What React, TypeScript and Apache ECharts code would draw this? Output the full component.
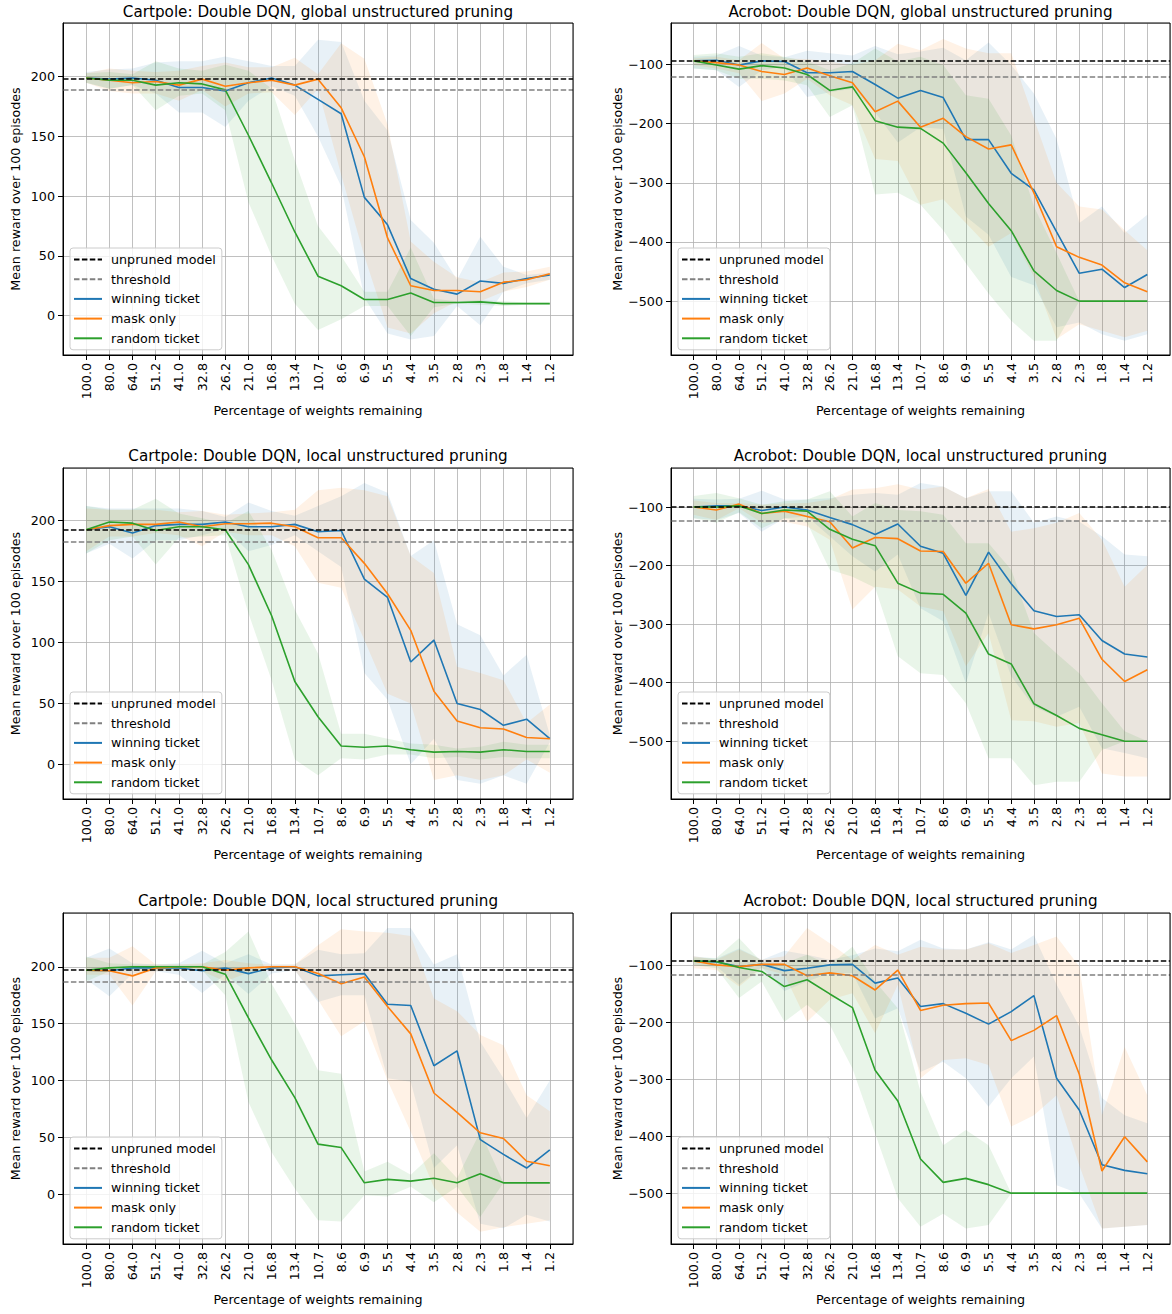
import React, { useEffect, useRef } from 'react';
import * as echarts from 'echarts';

// ---------- categories ----------
const categories = ['100.0', '80.0', '64.0', '51.2', '41.0', '32.8', '26.2', '21.0', '16.8', '13.4', '10.7', '8.6', '6.9', '5.5', '4.4', '3.5', '2.8', '2.3', '1.8', '1.4', '1.2'];
const PAD_L = 'padL';
const PAD_R = 'padR';

// ---------- Cartpole: global unstructured ----------
const cgWin = [199, 198, 199, 197, 191, 191, 188, 195, 199, 193, 181, 169, 99, 76, 31, 22, 18, 29, 27, 31, 34];
const cgWinHi = [204, 206, 207, 212, 213, 213, 217, 213, 209, 209, 231, 229, 180, 155, 80, 61, 30, 66, 41, 34, 36];
const cgWinLo = [195, 190, 193, 186, 170, 170, 158, 180, 192, 184, 150, 108, 15, -15, -20, -17, 8, -8, 20, 27, 30];
const cgMask = [199, 197, 195, 196, 193, 198, 192, 195, 197, 193, 198, 174, 133, 65, 25, 21, 21, 20, 28, 30, 35];
const cgMaskHi = [203, 207, 205, 204, 205, 209, 212, 208, 208, 216, 202, 228, 215, 160, 62, 45, 32, 28, 36, 37, 41];
const cgMaskLo = [195, 188, 186, 186, 180, 189, 175, 186, 187, 168, 190, 118, 50, -10, -15, 2, 12, 12, 20, 24, 30];
const cgRand = [199, 197, 197, 193, 195, 194, 189, 151, 111, 70, 33, 25, 13.5, 13.5, 19, 11, 11, 11.5, 10, 10, 10];
const cgRandHi = [203, 204, 202, 213, 207, 205, 210, 205, 190, 130, 75, 50, 20, 20, 57, 14, 12, 13, 12, 11, 11];
const cgRandLo = [195, 190, 193, 172, 184, 186, 172, 95, 50, 10, -12, -3, 8, 8, -17, 7, 10, 9, 8, 9, 9];

// ---------- Acrobot: global unstructured ----------
const agWin = [-94, -93, -101, -94, -95, -114, -114, -112, -134, -157, -144, -156, -227, -227, -284, -312, -383, -453, -446, -477, -455];
const agWinHi = [-87, -85, -69, -85, -88, -77, -81, -85, -69, -83, -78, -72, -93, -63, -101, -149, -226, -368, -340, -385, -354];
const agWinLo = [-107, -110, -138, -110, -104, -155, -147, -141, -181, -232, -206, -209, -357, -388, -459, -473, -544, -536, -556, -567, -556];
const agMask = [-94, -97, -101, -112, -117, -106, -119, -131, -180, -162, -206, -191, -222, -243, -236, -317, -408, -426, -439, -469, -484];
const agMaskHi = [-90, -87, -93, -64, -90, -91, -95, -101, -93, -65, -76, -57, -73, -81, -81, -192, -300, -340, -345, -380, -414];
const agMaskLo = [-101, -107, -115, -162, -149, -124, -152, -169, -260, -263, -337, -328, -368, -408, -385, -459, -564, -539, -550, -561, -550];
const agRand = [-94, -101, -108, -102, -106, -117, -144, -138, -195, -206, -208, -233, -283, -335, -381, -449, -482, -500, -500, -500, -500];
const agRandHi = [-84, -81, -87, -81, -87, -95, -110, -98, -73, -95, -87, -101, -152, -158, -220, -340, -419, -500, -500, -500, -500];
const agRandLo = [-107, -110, -124, -124, -127, -135, -189, -169, -320, -317, -337, -380, -436, -487, -533, -567, -567, -500, -500, -500, -500];

// ---------- Cartpole: local unstructured ----------
const clWin = [192.6, 195, 190, 196, 197, 197, 199, 195, 195, 197, 191, 192, 152, 137, 84, 102, 50, 45, 32, 37, 21];
const clWinHi = [212, 210, 210, 210, 210, 208, 203, 215, 208, 204, 212, 220, 231, 223, 171, 184, 115, 106, 73, 90, 24];
const clWinLo = [173, 181, 169, 184, 184, 188, 193, 175, 180, 188, 175, 162, 75, 53, 0, 21, -13, -16, -9, -16, 18];
const clMask = [192.6, 196, 197, 197, 199, 195, 197.5, 197.5, 198, 195, 186, 186, 165, 140, 110, 60, 35.6, 30, 29, 22, 21];
const clMaskHi = [210, 209, 209, 209, 207, 208, 205, 206, 207, 209, 225, 227, 225, 220, 171, 157, 80, 75, 69, 34, 49];
const clMaskLo = [175, 187, 187, 190, 188, 179, 191, 188, 188, 179, 149, 145, 102, 58, 50, -13, -9, -13, -9, 4, -7];
const clRand = [192.6, 199, 198, 192, 195, 195, 192.6, 164, 122, 68, 39, 15, 14, 15, 12, 10, 10.5, 10, 12, 10.5, 10.5];
const clRandHi = [212, 209, 209, 218, 206, 202, 198, 208, 176, 127, 91, 25, 25, 21, 17, 16, 13, 14.5, 18.6, 16, 16];
const clRandLo = [173, 184, 187, 164, 186, 187, 188, 124, 69, 4, -9, 5, 4, 8, 8, 5, 6, 4, 6, 5, 5];

// ---------- Acrobot: local unstructured ----------
const alWin = [-100, -98, -98, -106, -100, -105, -118, -130, -147, -129, -167, -179, -251, -177, -231, -277, -287, -284, -328, -351, -356];
const alWinHi = [-86, -87, -86, -72, -87, -87, -85, -79, -76, -79, -59, -65, -85, -73, -73, -127, -116, -125, -150, -181, -184];
const alWinLo = [-119, -122, -110, -142, -119, -116, -150, -184, -210, -181, -273, -295, -401, -281, -389, -441, -458, -441, -512, -520, -529];
const alMask = [-100, -105, -95, -111, -107, -116, -125, -170, -152, -154, -175, -176, -230, -196, -301, -308, -301, -290, -360, -398, -378];
const alMaskHi = [-89, -93, -93, -96, -94, -93, -87, -70, -68, -61, -70, -65, -85, -69, -142, -136, -127, -110, -156, -236, -199];
const alMaskLo = [-113, -122, -102, -127, -125, -133, -156, -275, -236, -241, -270, -278, -372, -315, -464, -466, -475, -469, -555, -560, -560];
const alRand = [-100, -100, -98, -111, -105, -107, -138, -155, -166, -230, -247, -249, -281, -351, -368, -436, -456, -478, -489, -500, -500];
const alRandHi = [-81, -76, -85, -96, -90, -87, -73, -116, -93, -105, -107, -113, -162, -162, -207, -315, -350, -384, -435, -483, -500];
const alRandLo = [-119, -127, -109, -136, -119, -127, -207, -219, -238, -355, -384, -387, -435, -529, -529, -575, -569, -569, -515, -500, -500];

// ---------- Cartpole: local structured ----------
const csWin = [197, 196.5, 199, 199, 199, 196.5, 199, 194, 199, 200, 192, 193, 194, 167, 166, 113, 126, 48, 35, 23, 39];
const csWinHi = [208, 216, 203, 202, 203, 214, 203, 211, 202, 202, 215, 211, 212, 234, 234, 202, 211, 134, 102, 67, 100];
const csWinLo = [189, 174, 194, 196, 193, 177, 193.5, 176, 194, 197, 169, 175, 175, 102, 99, 23, 43, -26, -30, -18, -24];
const csMask = [197, 196.5, 192, 199, 200, 200, 197, 199, 200, 200, 194, 185, 191, 165, 141, 89, 72, 54, 49, 29, 25];
const csMaskHi = [208, 208, 218, 202, 202, 203, 206, 203, 202, 202, 219, 233, 231, 230, 227, 172, 161, 140, 131, 87, 73];
const csMaskLo = [193, 193, 166, 196, 197, 196, 187, 195, 197, 197, 171, 139, 152, 100, 55, 6, -16, -33, -29, -26, -23];
const csRand = [197, 199, 200, 200, 200, 200, 193.5, 155, 118, 85, 44, 41, 10, 13, 11.5, 14, 10, 18, 10, 10, 10];
const csRandHi = [209, 203, 202, 202, 202, 202, 213, 231, 185, 150, 109, 106, 20, 28.5, 17, 36, 14, 55, 10, 10, 10];
const csRandLo = [187, 196, 197, 197, 197, 197, 175, 81, 37, 5, -23, -24, -1, -2, 6.5, -7, 6.5, -20, 10, 10, 10];

// ---------- Acrobot: local structured ----------
const asWin = [-92, -94, -102, -98, -109, -105, -99, -98, -131, -122, -172, -167, -184, -203, -181, -153, -298, -354, -450, -460, -466];
const asWinHi = [-84, -88, -70, -90, -74, -81, -90, -82, -70, -75, -55, -70, -72, -59, -72, -47, -134, -207, -333, -363, -377];
const asWinLo = [-99, -102, -134, -103, -145, -128, -113, -113, -193, -175, -287, -269, -298, -348, -298, -260, -486, -501, -562, -559, -556];
const asMask = [-92, -99, -102, -98, -98, -118, -113, -118, -143, -108, -179, -170, -167, -166, -232, -214, -188, -291, -461, -401, -445];
const asMaskHi = [-84, -90, -72, -90, -84, -34, -61, -90, -64, -81, -67, -72, -72, -61, -78, -64, -49, -102, -363, -243, -328];
const asMaskLo = [-105, -108, -137, -105, -116, -199, -160, -149, -219, -134, -298, -266, -263, -275, -383, -363, -328, -451, -562, -559, -556];
const asRand = [-92, -93, -103.5, -110.5, -137, -125, -150, -174, -284, -338, -440, -481, -474, -485, -500, -500, -500, -500, -500, -500, -500];
const asRandHi = [-86, -87, -52, -94, -96, -81, -99, -67, -128, -175, -322, -416, -389, -416, -500, -500, -500, -500, -500, -500, -500];
const asRandLo = [-99, -105, -157, -128, -199, -169, -204, -281, -395, -509, -559, -536, -562, -556, -500, -500, -500, -500, -500, -500, -500];

// ---------- baselines ----------
const unprunedValues = [198.6, -94, 192.6, -100, 197.1, -92];
const thresholdValues = [189, -120, 182.7, -124, 187, -117];

const titles = [
  'Cartpole: Double DQN, global unstructured pruning',
  'Acrobot: Double DQN, global unstructured pruning',
  'Cartpole: Double DQN, local unstructured pruning',
  'Acrobot: Double DQN, local unstructured pruning',
  'Cartpole: Double DQN, local structured pruning',
  'Acrobot: Double DQN, local structured pruning',
];

const seriesData = [
  { win: cgWin, winHi: cgWinHi, winLo: cgWinLo, mask: cgMask, maskHi: cgMaskHi, maskLo: cgMaskLo, rand: cgRand, randHi: cgRandHi, randLo: cgRandLo },
  { win: agWin, winHi: agWinHi, winLo: agWinLo, mask: agMask, maskHi: agMaskHi, maskLo: agMaskLo, rand: agRand, randHi: agRandHi, randLo: agRandLo },
  { win: clWin, winHi: clWinHi, winLo: clWinLo, mask: clMask, maskHi: clMaskHi, maskLo: clMaskLo, rand: clRand, randHi: clRandHi, randLo: clRandLo },
  { win: alWin, winHi: alWinHi, winLo: alWinLo, mask: alMask, maskHi: alMaskHi, maskLo: alMaskLo, rand: alRand, randHi: alRandHi, randLo: alRandLo },
  { win: csWin, winHi: csWinHi, winLo: csWinLo, mask: csMask, maskHi: csMaskHi, maskLo: csMaskLo, rand: csRand, randHi: csRandHi, randLo: csRandLo },
  { win: asWin, winHi: asWinHi, winLo: asWinLo, mask: asMask, maskHi: asMaskHi, maskLo: asMaskLo, rand: asRand, randHi: asRandHi, randLo: asRandLo },
];

// ---------- layout (px) ----------
const layouts = [
  { left: 63, top: 23, width: 510, height: 332, yMin: -33, yMax: 245, titleTop: 4 },
  { left: 671, top: 23, width: 499, height: 332, yMin: -591, yMax: -30, titleTop: 4 },
  { left: 63, top: 468, width: 510, height: 331, yMin: -28.5, yMax: 243.3, titleTop: 448 },
  { left: 671, top: 468, width: 499, height: 331, yMin: -598.6, yMax: -33.3, titleTop: 448 },
  { left: 63, top: 913, width: 510, height: 331, yMin: -43.8, yMax: 247.3, titleTop: 893 },
  { left: 671, top: 913, width: 499, height: 331, yMin: -589.3, yMax: -7.8, titleTop: 893 },
];

const FONT = 'DejaVu Sans';
const FS = 12.7;
const FS_TITLE = 15.2;
const C_WIN = '#1f77b4';
const C_MASK = '#ff7f0e';
const C_RAND = '#2ca02c';
const DASH = [5.5, 2.4];
const LEGEND_NAMES = ['unpruned model', 'threshold', 'winning ticket', 'mask only', 'random ticket'];

const pairs = (arr: number[]) => arr.map((v, i) => [categories[i], v]);

function buildOption() {
  const grid: any[] = [];
  const xAxis: any[] = [];
  const yAxis: any[] = [];
  const series: any[] = [];
  const legend: any[] = [];
  const title: any[] = [];
  const graphic: any[] = [];

  layouts.forEach((L, k) => {
    const d = seriesData[k];
    grid.push({ left: L.left, top: L.top, width: L.width, height: L.height, containLabel: false });
    xAxis.push({
      type: 'category',
      gridIndex: k,
      data: [PAD_L, ...categories, PAD_R],
      boundaryGap: false,
      name: 'Percentage of weights remaining',
      nameLocation: 'middle',
      nameGap: 49,
      nameTextStyle: { fontFamily: FONT, fontSize: FS, color: '#000' },
      axisLine: { show: true, onZero: false, lineStyle: { color: '#000', width: 1 } },
      axisTick: { show: true, length: 5, interval: (i: number) => i > 0 && i < categories.length + 1, lineStyle: { color: '#000', width: 1 } },
      axisLabel: {
        interval: 0,
        rotate: 90,
        margin: 8,
        fontFamily: FONT,
        fontSize: FS,
        color: '#000',
        formatter: (v: string) => (v === PAD_L || v === PAD_R ? '' : v),
      },
      splitLine: { show: true, interval: 0, lineStyle: { color: '#b0b0b0', width: 0.8 } },
    });
    yAxis.push({
      type: 'value',
      gridIndex: k,
      min: L.yMin,
      max: L.yMax,
      splitNumber: 5,
      name: 'Mean reward over 100 episodes',
      nameLocation: 'middle',
      nameGap: 41,
      nameRotate: 90,
      nameTextStyle: { fontFamily: FONT, fontSize: FS, color: '#000' },
      axisLine: { show: true, onZero: false, lineStyle: { color: '#000', width: 1 } },
      axisTick: { show: true, length: 5, lineStyle: { color: '#000', width: 1 } },
      axisLabel: {
        showMinLabel: false,
        showMaxLabel: false,
        margin: 8,
        fontFamily: FONT,
        fontSize: FS,
        color: '#000',
        formatter: (v: number) => String(v).replace('-', '\u2212'),
      },
      splitLine: { show: true, lineStyle: { color: '#b0b0b0', width: 0.8 } },
    });

    const bands: [string, number[], number[], string][] = [
      ['win', d.winLo, d.winHi, C_WIN],
      ['mask', d.maskLo, d.maskHi, C_MASK],
      ['rand', d.randLo, d.randHi, C_RAND],
    ];
    bands.forEach(([key, lo, hi, color]) => {
      series.push({
        type: 'line',
        name: `band-${key}-lo-${k}`,
        xAxisIndex: k,
        yAxisIndex: k,
        stack: `${key}-${k}`,
        stackStrategy: 'all',
        data: pairs(lo),
        symbol: 'none',
        lineStyle: { width: 0, opacity: 0 },
        silent: true,
        z: 1,
      });
      series.push({
        type: 'line',
        name: `band-${key}-hi-${k}`,
        xAxisIndex: k,
        yAxisIndex: k,
        stack: `${key}-${k}`,
        stackStrategy: 'all',
        data: hi.map((v, i) => [categories[i], v - lo[i]]),
        symbol: 'none',
        lineStyle: { width: 0, opacity: 0 },
        areaStyle: { color, opacity: 0.1 },
        silent: true,
        z: 1,
      });
    });

    const lines: [string, number[], string][] = [
      ['winning ticket', d.win, C_WIN],
      ['mask only', d.mask, C_MASK],
      ['random ticket', d.rand, C_RAND],
    ];
    lines.forEach(([name, arr, color]) => {
      series.push({
        type: 'line',
        name,
        xAxisIndex: k,
        yAxisIndex: k,
        data: pairs(arr),
        symbol: 'none',
        lineStyle: { color, width: 1.6 },
        itemStyle: { color },
        z: 3,
      });
    });

    const refs: [string, number, string][] = [
      ['unpruned model', unprunedValues[k], '#000000'],
      ['threshold', thresholdValues[k], '#808080'],
    ];
    refs.forEach(([name, val, color]) => {
      series.push({
        type: 'line',
        name,
        xAxisIndex: k,
        yAxisIndex: k,
        data: [],
        symbol: 'none',
        lineStyle: { color, width: 1.6, type: DASH },
        itemStyle: { color },
        z: 4,
        markLine: {
          silent: true,
          symbol: ['none', 'none'],
          label: { show: false },
          lineStyle: { color, width: 1.6, type: DASH },
          emphasis: { disabled: true },
          data: [{ yAxis: val }],
        },
      });
    });

    legend.push({
      orient: 'vertical',
      left: L.left + 7,
      top: L.top + L.height - 107,
      data: LEGEND_NAMES.map((n) => ({ name: n })),
      itemWidth: 28,
      itemHeight: 12,
      itemGap: 6.7,
      padding: [5, 6, 5, 3],
      backgroundColor: 'rgba(255,255,255,0.8)',
      borderColor: '#cccccc',
      borderWidth: 1,
      borderRadius: 3,
      selectedMode: false,
      itemStyle: { opacity: 0 },
      textStyle: { fontFamily: FONT, fontSize: FS, color: '#000', padding: [0, 0, 0, 4] },
    });

    title.push({
      text: titles[k],
      left: L.left + L.width / 2,
      top: L.titleTop,
      textAlign: 'center',
      padding: 0,
      textStyle: { fontFamily: FONT, fontSize: FS_TITLE, fontWeight: 'normal', color: '#000' },
    });

    graphic.push({
      type: 'rect',
      silent: true,
      z: 100,
      shape: { x: L.left, y: L.top, width: L.width, height: L.height },
      style: { fill: 'none', stroke: '#000', lineWidth: 1 },
    });
  });

  return {
    animation: false,
    backgroundColor: '#ffffff',
    textStyle: { fontFamily: FONT },
    title,
    grid,
    xAxis,
    yAxis,
    legend,
    series,
    graphic,
  };
}

export default function App() {
  const ref = useRef<HTMLDivElement>(null);
  useEffect(() => {
    if (!ref.current) return;
    const chart = echarts.init(ref.current, undefined, { renderer: 'svg' });
    chart.setOption(buildOption() as any);
    return () => chart.dispose();
  }, []);
  return (
    <div
      ref={ref}
      style={{ position: 'absolute', left: 0, top: 0, width: 1172, height: 1314, background: '#fff' }}
    />
  );
}
